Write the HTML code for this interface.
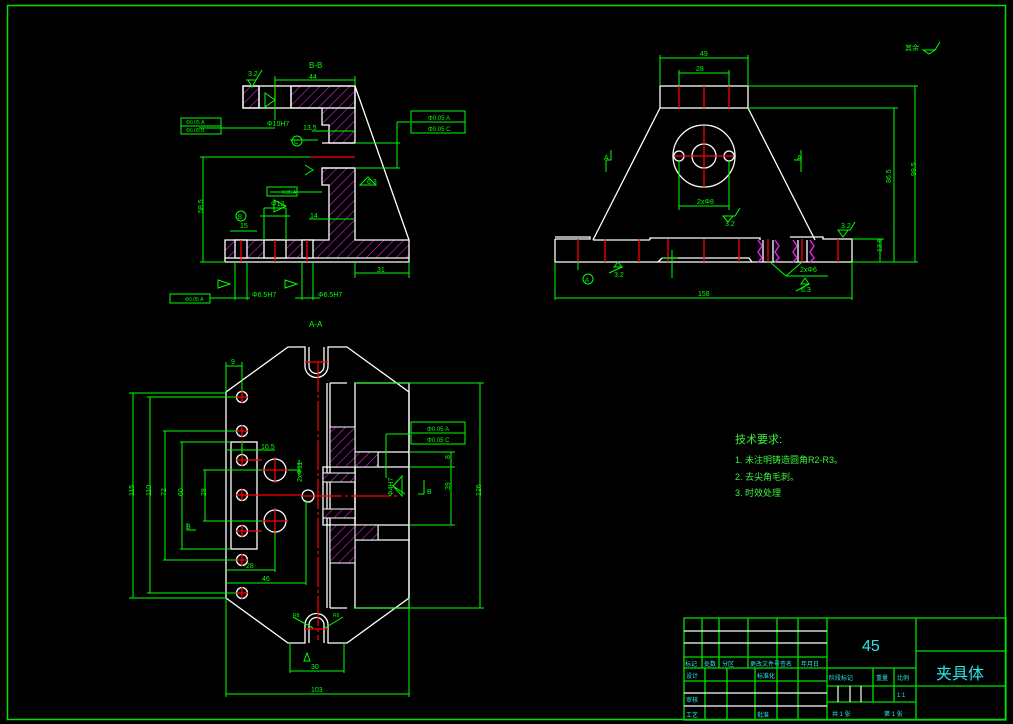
<!DOCTYPE html>
<html><head><meta charset="utf-8"><style>
html,body{margin:0;padding:0;background:#000;}
svg{display:block;}
text{font-family:"Liberation Sans","Noto Sans CJK SC",sans-serif;}
</style></head><body>
<svg width="1013" height="724" viewBox="0 0 1013 724" xmlns="http://www.w3.org/2000/svg">
<defs>
<pattern id="h" patternUnits="userSpaceOnUse" width="7" height="7" patternTransform="rotate(45)">
<rect width="7" height="7" fill="#000"/><line x1="0" y1="0" x2="0" y2="7" stroke="#e020e0" stroke-width="1.2"/>
</pattern>
</defs>
<rect width="1013" height="724" fill="#000"/>
<rect x="7.5" y="5.5" width="998" height="714" fill="none" stroke="#00e000" stroke-width="1.5"/>

<!-- ============ B-B view ============ -->
<g stroke="#fff" stroke-width="1.3" fill="none">
<rect x="243" y="86" width="16" height="22" fill="url(#h)"/>
<polygon points="291,86 355,86 355,143 329,143 329,125 322,125 322,108 291,108" fill="url(#h)"/>
<polygon points="322,168 355,168 355,240 409,240 409,258 225,258 225,240 329,240 329,185 322,185" fill="url(#h)"/>
<rect x="235" y="240" width="12" height="18" fill="#000"/>
<rect x="264" y="240" width="22" height="18" fill="#000"/>
<rect x="302" y="240" width="11" height="18" fill="#000"/>
<rect x="243" y="86" width="112" height="22"/>
<line x1="259" y1="86" x2="259" y2="108"/><line x1="291" y1="86" x2="291" y2="108"/>
<line x1="322" y1="143" x2="355" y2="143"/><line x1="322" y1="168" x2="355" y2="168"/>
<line x1="355" y1="86" x2="409" y2="240"/>
<line x1="225" y1="262" x2="409" y2="262"/><line x1="225" y1="258" x2="225" y2="262"/><line x1="409" y1="258" x2="409" y2="262"/>
</g>
<g stroke="#f00" stroke-width="1.3">
<line x1="241" y1="240" x2="241" y2="262"/><line x1="275" y1="240" x2="275" y2="262"/><line x1="307" y1="240" x2="307" y2="262"/>
<line x1="275" y1="86" x2="275" y2="100"/><line x1="310" y1="157" x2="355" y2="157"/>
</g>
<g stroke="#0f0" stroke-width="1" fill="none">
<line x1="275" y1="80" x2="355" y2="80"/><line x1="275" y1="76" x2="275" y2="120"/><line x1="355" y1="76" x2="355" y2="86"/>
<line x1="200" y1="157" x2="310" y2="157"/><line x1="200" y1="262" x2="225" y2="262"/><line x1="203" y1="157" x2="203" y2="262"/>
<line x1="355" y1="273" x2="409" y2="273"/><line x1="355" y1="262" x2="355" y2="278"/><line x1="409" y1="262" x2="409" y2="278"/>
<line x1="312" y1="131" x2="355" y2="131"/><line x1="309" y1="219" x2="355" y2="219"/>
<line x1="199" y1="128" x2="275" y2="128"/>
<line x1="290" y1="140" x2="318" y2="140"/>
<line x1="270" y1="192" x2="322" y2="192"/>
<line x1="260" y1="216" x2="290" y2="216"/><line x1="264" y1="208" x2="264" y2="240"/><line x1="286" y1="208" x2="286" y2="240"/><line x1="264" y1="208" x2="286" y2="208"/>
<line x1="230" y1="231" x2="257" y2="231"/>
<line x1="235" y1="262" x2="235" y2="300"/><line x1="247" y1="262" x2="247" y2="300"/>
<line x1="302" y1="262" x2="302" y2="300"/><line x1="313" y1="262" x2="313" y2="300"/>
<line x1="210" y1="298" x2="250" y2="298"/><line x1="295" y1="298" x2="320" y2="298"/>
<line x1="355" y1="143" x2="400" y2="143"/><line x1="355" y1="168" x2="400" y2="168"/><line x1="397" y1="122" x2="397" y2="168"/><line x1="397" y1="122" x2="410" y2="122"/>
<rect x="181" y="118" width="40" height="8"/><rect x="181" y="126" width="40" height="8"/>
<rect x="267" y="187" width="30" height="9"/>
<rect x="170" y="294" width="40" height="9"/>
<rect x="411" y="111" width="54" height="11"/><rect x="411" y="122" width="54" height="11"/>
<circle cx="297" cy="141" r="5"/><circle cx="241" cy="216" r="5"/>
<path d="M248,80 L252,87 L256,80 Z M246,80 L256,80 L262,70"/>
<path d="M265,93 L275,100 L265,107 Z"/>
<path d="M305,175 L313,170 L305,165"/>
<path d="M360,185 L368,177 L376,185 Z"/>
<path d="M274,200 L286,206 L274,212 Z"/>
<path d="M218,280 L230,284 L218,288 Z"/><path d="M285,280 L297,284 L285,288 Z"/>
</g>
<g fill="#0f0" font-size="7">
<text x="309" y="68" font-size="8">B-B</text><text x="309" y="79">44</text>
<text x="195" y="215" transform="rotate(-90 198 210)">58.5</text>
<text x="377" y="272">31</text>
<text x="303" y="130">13.5</text><text x="310" y="218">14</text>
<text x="267" y="126">Φ10H7</text><text x="271" y="206">Φ12</text><text x="240" y="228">15</text>
<text x="252" y="297">Φ6.5H7</text><text x="318" y="297">Φ6.5H7</text>
<text x="186" y="124" font-size="5">Φ0.05 A</text><text x="186" y="132" font-size="5">Φ0.05 B</text>
<text x="428" y="120" font-size="6">Φ0.05 A</text><text x="428" y="131" font-size="6">Φ0.05 C</text>
<text x="282" y="194" font-size="5">0.05 A</text><text x="185" y="301" font-size="5">Φ0.05 A</text>
<text x="294" y="144" font-size="6">C</text><text x="238" y="219" font-size="6">B</text>
<text x="248" y="76">3.2</text><text x="367" y="184">6.3</text>
</g>

<!-- ============ Top right front view ============ -->
<g stroke="#fff" stroke-width="1.3" fill="none">
<rect x="660" y="86" width="88" height="22"/>
<line x1="660" y1="108" x2="593" y2="240"/><line x1="748" y1="108" x2="815" y2="240"/>
<path d="M555,239 L555,262 L852,262 L852,239 L823,239 L823,237 L790,237"/>
<path d="M555,239 L590,239 L590,237 L555,237"/>
<line x1="593" y1="240" x2="650" y2="240"/><path d="M650,240 L650,238 L760,238 L760,240"/>
<path d="M658,262 L662,258 L749,258 L752,262"/>
<circle cx="704" cy="156" r="31"/><circle cx="704" cy="156" r="12"/>
<circle cx="679" cy="156" r="5"/><circle cx="729" cy="156" r="5"/>
<line x1="763" y1="240" x2="763" y2="262"/><line x1="773" y1="240" x2="773" y2="262"/><line x1="798" y1="240" x2="798" y2="262"/><line x1="807" y1="240" x2="807" y2="262"/>
</g>
<g stroke="#e020e0" stroke-width="1.5" fill="none">
<path d="M758,240 l4,6 -4,6 4,6 -4,4"/><path d="M775,240 l4,6 -4,6 4,6 -4,4"/><path d="M793,240 l4,6 -4,6 4,6 -4,4"/><path d="M810,240 l4,6 -4,6 4,6 -4,4"/>
</g>
<g stroke="#f00" stroke-width="1.3">
<line x1="679" y1="86" x2="679" y2="108"/><line x1="704" y1="86" x2="704" y2="108"/><line x1="729" y1="86" x2="729" y2="108"/>
<line x1="704" y1="126" x2="704" y2="187"/><line x1="674" y1="156" x2="734" y2="156"/>
<line x1="578" y1="239" x2="578" y2="262"/><line x1="605" y1="239" x2="605" y2="262"/><line x1="639" y1="239" x2="639" y2="262"/><line x1="668" y1="239" x2="668" y2="262"/><line x1="704" y1="239" x2="704" y2="262"/><line x1="739" y1="239" x2="739" y2="262"/><line x1="768" y1="239" x2="768" y2="262"/><line x1="802" y1="239" x2="802" y2="262"/><line x1="838" y1="239" x2="838" y2="262"/>
</g>
<g stroke="#0f0" stroke-width="1" fill="none">
<line x1="660" y1="58" x2="748" y2="58"/><line x1="660" y1="55" x2="660" y2="86"/><line x1="748" y1="55" x2="748" y2="86"/>
<line x1="679" y1="73" x2="729" y2="73"/><line x1="679" y1="70" x2="679" y2="86"/><line x1="729" y1="70" x2="729" y2="86"/>
<line x1="679" y1="160" x2="679" y2="210"/><line x1="729" y1="160" x2="729" y2="210"/><line x1="679" y1="206" x2="729" y2="206"/>
<line x1="748" y1="86" x2="918" y2="86"/><line x1="748" y1="108" x2="898" y2="108"/><line x1="852" y1="262" x2="918" y2="262"/>
<line x1="915" y1="86" x2="915" y2="262"/><line x1="894" y1="108" x2="894" y2="262"/><line x1="880" y1="239" x2="880" y2="262"/><line x1="852" y1="239" x2="884" y2="239"/>
<line x1="555" y1="262" x2="555" y2="300"/><line x1="852" y1="262" x2="852" y2="300"/><line x1="555" y1="298" x2="852" y2="298"/>
<line x1="578" y1="262" x2="578" y2="270"/><circle cx="588" cy="279" r="5"/>
<line x1="770" y1="262" x2="786" y2="276"/><line x1="802" y1="262" x2="786" y2="276"/><line x1="786" y1="276" x2="828" y2="276"/>
<path d="M606,160 L611,160 L611,150 M606,160 L606,172"/>
<path d="M794,160 L801,160 L801,150 M801,160 L801,172"/>
<path d="M723,216 L728,222 L733,216 Z M723,216 L735,216 L740,208"/>
<path d="M838,230 L843,237 L848,230 Z M838,230 L850,230 L855,222"/>
<path d="M614,267 L618,262 L622,267 Z M609,273 L622,267"/>
<path d="M801,284 L805,278 L809,284 Z M796,291 L809,284"/>
<line x1="672" y1="250" x2="672" y2="278"/><line x1="662" y1="258" x2="678" y2="258"/>
<path d="M923,50 L929,54 L935,50 Z M935,50 L940,42"/>
</g>
<g fill="#0f0" font-size="7">
<text x="700" y="56">49</text><text x="696" y="71">28</text><text x="697" y="204">2xΦ8</text>
<text x="698" y="296">158</text><text x="890" y="182" transform="rotate(-90 891 182)">86.5</text><text x="912" y="178" transform="rotate(-90 913 175)">99.5</text>
<text x="878" y="256" transform="rotate(-90 878 252)">13.5</text>
<text x="604" y="160">A</text><text x="797" y="160">A</text>
<text x="800" y="272">2xΦ6</text><text x="801" y="292">6.3</text><text x="614" y="277">3.2</text>
<text x="725" y="226">3.2</text><text x="841" y="228">3.2</text><text x="585" y="282" font-size="6">A</text>
<text x="905" y="50">其余</text>
</g>

<!-- ============ A-A view ============ -->
<text x="309" y="327" fill="#0f0" font-size="8" font-family="Liberation Sans">A-A</text>
<g stroke="#fff" stroke-width="1.3" fill="none">
<path d="M288,347 L305,347 L305,366 A11.5,11.5 0 0 0 328,366 L328,347 L347,347 L409,392 L409,598 L347,643 L328,643 L328,625 A11.5,11.5 0 0 0 305,625 L305,643 L288,643 L226,598 L226,392 Z"/>
<path d="M309,347 L309,366 A7.5,7.5 0 0 0 324,366 L324,347"/>
<path d="M309,643 L309,625 A7.5,7.5 0 0 1 324,625 L324,643"/>
<rect x="231" y="442" width="26" height="107"/>
<circle cx="242" cy="397" r="5.5"/><circle cx="242" cy="431" r="5.5"/><circle cx="242" cy="460" r="5.5"/><circle cx="242" cy="495" r="5.5"/><circle cx="242" cy="531" r="5.5"/><circle cx="242" cy="560" r="5.5"/><circle cx="242" cy="593" r="5.5"/>
<circle cx="275" cy="470" r="11"/><circle cx="275" cy="521" r="11"/><circle cx="308" cy="496" r="6"/>
<rect x="355" y="383" width="54" height="225"/>
<line x1="330" y1="383" x2="330" y2="608"/><line x1="327" y1="383" x2="327" y2="608"/>
<line x1="330" y1="383" x2="347" y2="383"/><line x1="330" y1="608" x2="347" y2="608"/>
<line x1="355" y1="452" x2="409" y2="452"/><line x1="355" y1="467" x2="409" y2="467"/><line x1="355" y1="525" x2="409" y2="525"/><line x1="355" y1="540" x2="409" y2="540"/>
<line x1="378" y1="452" x2="378" y2="467"/><line x1="378" y1="525" x2="378" y2="540"/>
<rect x="323" y="467" width="32" height="58"/>
</g>
<g stroke="#fff" stroke-width="1" fill="url(#h)">
<rect x="330" y="427" width="25" height="40"/><rect x="355" y="452" width="23" height="15"/>
<rect x="330" y="525" width="25" height="38"/><rect x="355" y="525" width="23" height="15"/>
<rect x="323" y="473" width="32" height="9"/><rect x="323" y="509" width="32" height="9"/>
</g>
<g stroke="#f00" stroke-width="1.2">
<line x1="318" y1="362" x2="318" y2="640" stroke-dasharray="30,3,3,3"/>
<line x1="305" y1="362" x2="328" y2="362"/><line x1="305" y1="629" x2="328" y2="629"/>
<line x1="236" y1="397" x2="248" y2="397"/><line x1="242" y1="391" x2="242" y2="403"/>
<line x1="236" y1="431" x2="248" y2="431"/><line x1="242" y1="425" x2="242" y2="437"/>
<line x1="236" y1="460" x2="262" y2="460"/><line x1="242" y1="440" x2="242" y2="466"/>
<line x1="236" y1="495" x2="302" y2="495"/><line x1="242" y1="489" x2="242" y2="501"/>
<line x1="236" y1="531" x2="262" y2="531"/><line x1="242" y1="525" x2="242" y2="537"/>
<line x1="236" y1="560" x2="248" y2="560"/><line x1="242" y1="554" x2="242" y2="566"/>
<line x1="236" y1="593" x2="248" y2="593"/><line x1="242" y1="587" x2="242" y2="599"/>
<line x1="262" y1="470" x2="288" y2="470"/><line x1="275" y1="457" x2="275" y2="483"/>
<line x1="262" y1="521" x2="288" y2="521"/><line x1="275" y1="508" x2="275" y2="534"/>
<line x1="302" y1="496" x2="400" y2="496" stroke-dasharray="40,3,3,3"/>
</g>
<g stroke="#0f0" stroke-width="1" fill="none">
<line x1="129" y1="393" x2="226" y2="393"/><line x1="129" y1="598" x2="226" y2="598"/><line x1="133" y1="393" x2="133" y2="598"/>
<line x1="147" y1="397" x2="236" y2="397"/><line x1="147" y1="593" x2="236" y2="593"/><line x1="150" y1="397" x2="150" y2="593"/>
<line x1="163" y1="431" x2="236" y2="431"/><line x1="163" y1="560" x2="236" y2="560"/><line x1="165" y1="431" x2="165" y2="560"/>
<line x1="180" y1="442" x2="231" y2="442"/><line x1="180" y1="549" x2="231" y2="549"/><line x1="182" y1="442" x2="182" y2="549"/>
<line x1="203" y1="470" x2="262" y2="470"/><line x1="203" y1="521" x2="262" y2="521"/><line x1="205" y1="470" x2="205" y2="521"/>
<line x1="226" y1="598" x2="226" y2="697"/><line x1="409" y1="598" x2="409" y2="697"/><line x1="226" y1="694" x2="409" y2="694"/>
<line x1="226" y1="583" x2="306" y2="583"/><line x1="306" y1="500" x2="306" y2="585"/>
<line x1="226" y1="570" x2="275" y2="570"/><line x1="275" y1="532" x2="275" y2="572"/>
<line x1="226" y1="366" x2="242" y2="366"/><line x1="226" y1="362" x2="226" y2="392"/><line x1="242" y1="362" x2="242" y2="391"/>
<line x1="226" y1="450" x2="275" y2="450"/><line x1="242" y1="442" x2="242" y2="455"/>
<line x1="288" y1="470" x2="300" y2="470"/><line x1="299" y1="460" x2="299" y2="475"/>
<line x1="290" y1="643" x2="290" y2="673"/><line x1="344" y1="643" x2="344" y2="673"/><line x1="290" y1="671" x2="344" y2="671"/>
<line x1="355" y1="383" x2="484" y2="383"/><line x1="355" y1="608" x2="484" y2="608"/><line x1="480" y1="383" x2="480" y2="608"/>
<line x1="409" y1="452" x2="455" y2="452"/><line x1="409" y1="525" x2="455" y2="525"/><line x1="451" y1="452" x2="451" y2="525"/>
<line x1="409" y1="467" x2="455" y2="467"/>
<line x1="386" y1="434" x2="386" y2="478"/><line x1="386" y1="434" x2="410" y2="434"/>
<rect x="411" y="422" width="54" height="11"/><rect x="411" y="433" width="54" height="11"/>
<path d="M393,486 L402,476 L402,496 Z M393,486 L405,494"/>
<path d="M304,661 L307,653 L310,661 Z"/>
<path d="M187,523 L187,530 L196,530"/><path d="M424,480 L424,494 L418,494"/>
<line x1="293" y1="617" x2="313" y2="628"/><line x1="343" y1="617" x2="325" y2="628"/>
</g>
<g fill="#0f0" font-size="7">
<text x="231" y="364">9</text><text x="261" y="449">10.5</text>
<text x="130" y="500" transform="rotate(-90 130 496)">115</text><text x="147" y="500" transform="rotate(-90 147 496)">110</text>
<text x="162" y="500" transform="rotate(-90 162 496)">72</text><text x="179" y="500" transform="rotate(-90 179 496)">60</text>
<text x="202" y="500" transform="rotate(-90 202 496)">28</text>
<text x="246" y="568">28</text><text x="262" y="581">46</text><text x="311" y="669">30</text><text x="311" y="692">103</text>
<text x="477" y="500" transform="rotate(-90 477 496)">126</text><text x="448" y="492" transform="rotate(-90 448 490)">39</text>
<text x="448" y="461" transform="rotate(-90 448 459)">8</text><text x="387" y="502" transform="rotate(-90 387 496)">Φ4H7</text>
<text x="295" y="485" transform="rotate(-90 297 480)">2xΦ11</text>
<text x="186" y="529">B</text><text x="427" y="494">B</text>
<text x="427" y="431" font-size="6">Φ0.05 A</text><text x="427" y="442" font-size="6">Φ0.05 C</text>
<text x="293" y="617" font-size="5">R8</text><text x="333" y="617" font-size="5">R6</text>
</g>

<!-- ============ Technical requirements ============ -->
<g fill="#3cf03c" font-family="Liberation Sans,'Noto Sans CJK SC',sans-serif">
<text x="735" y="443" font-size="11">技术要求:</text>
<text x="735" y="463" font-size="9">1. 未注明铸造圆角R2-R3。</text>
<text x="735" y="480" font-size="9">2. 去尖角毛刺。</text>
<text x="735" y="496" font-size="9">3. 时效处理</text>
</g>

<!-- ============ Title block ============ -->
<g stroke="#00e000" stroke-width="1.3" fill="none">
<rect x="684" y="618" width="322" height="102"/>
<line x1="827" y1="618" x2="827" y2="720"/><line x1="916" y1="618" x2="916" y2="720"/>
<line x1="684" y1="657" x2="827" y2="657"/><line x1="684" y1="668" x2="916" y2="668"/><line x1="684" y1="681" x2="827" y2="681"/>
<line x1="702" y1="618" x2="702" y2="668"/><line x1="719" y1="618" x2="719" y2="668"/><line x1="748" y1="618" x2="748" y2="668"/>
<line x1="777" y1="618" x2="777" y2="720"/><line x1="798" y1="618" x2="798" y2="720"/>
<line x1="705" y1="668" x2="705" y2="720"/><line x1="727" y1="668" x2="727" y2="720"/><line x1="755" y1="668" x2="755" y2="720"/>
<line x1="827" y1="686" x2="916" y2="686"/><line x1="827" y1="702" x2="916" y2="702"/>
<line x1="873" y1="668" x2="873" y2="702"/><line x1="894" y1="668" x2="894" y2="702"/>
<line x1="916" y1="651" x2="1006" y2="651"/><line x1="916" y1="686" x2="1006" y2="686"/>
</g>
<g stroke="#fff" stroke-width="1.2">
<line x1="684" y1="631" x2="827" y2="631"/><line x1="684" y1="643" x2="827" y2="643"/>
<line x1="684" y1="693" x2="827" y2="693"/><line x1="684" y1="706" x2="827" y2="706"/>
<line x1="838" y1="686" x2="838" y2="702"/><line x1="850" y1="686" x2="850" y2="702"/><line x1="861" y1="686" x2="861" y2="702"/>
</g>
<g fill="#2ee6e6" font-size="6" font-family="Liberation Sans,'Noto Sans CJK SC',sans-serif">
<text x="685" y="666">标记</text><text x="704" y="666">处数</text><text x="722" y="666">分区</text><text x="750" y="666">更改文件号</text><text x="780" y="666">签名</text><text x="801" y="666">年月日</text>
<text x="686" y="678">设计</text><text x="757" y="678">标准化</text><text x="686" y="702">审核</text><text x="686" y="717">工艺</text><text x="757" y="717">批准</text>
<text x="829" y="680">阶段标记</text><text x="876" y="680">重量</text><text x="897" y="680">比例</text><text x="897" y="697">1:1</text>
<text x="832" y="716">共 1 张</text><text x="884" y="716">第 1 张</text>
<text x="862" y="651" font-size="16">45</text>
<text x="936" y="679" font-size="16">夹具体</text>
</g>
</svg>
</body></html>
